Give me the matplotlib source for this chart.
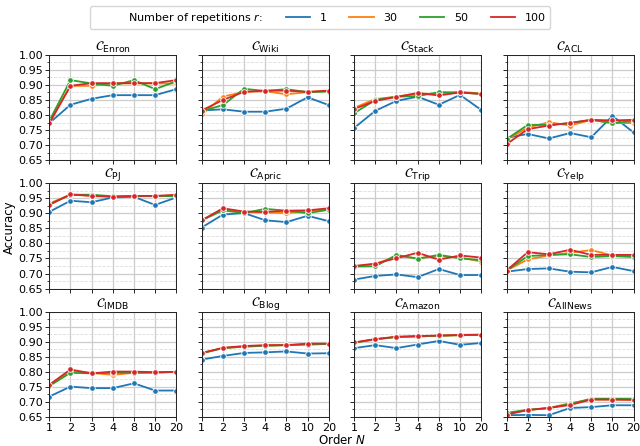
import matplotlib
matplotlib.use('Agg')
import matplotlib.pyplot as plt
from matplotlib.lines import Line2D
from matplotlib.ticker import MultipleLocator

orders = ['1', '2', '3', '4', '8', '10', '20']
reps = ['1', '30', '50', '100']
colors = ['#1f77b4', '#ff7f0e', '#2ca02c', '#d62728']

datasets = ['Enron', 'Wiki', 'Stack', 'ACL', 'PJ', 'Apric', 'Trip', 'Yelp',
            'IMDB', 'Blog', 'Amazon', 'AllNews']

# accuracy per dataset, one list per r (1, 30, 50, 100)
enron = [[0.773, 0.834, 0.854, 0.866, 0.866, 0.866, 0.886],
         [0.775, 0.897, 0.897, 0.905, 0.905, 0.905, 0.905],
         [0.780, 0.916, 0.905, 0.897, 0.916, 0.886, 0.912],
         [0.772, 0.897, 0.906, 0.906, 0.906, 0.906, 0.916]]
wiki = [[0.815, 0.819, 0.811, 0.811, 0.821, 0.859, 0.833],
        [0.802, 0.861, 0.877, 0.879, 0.869, 0.876, 0.881],
        [0.813, 0.833, 0.887, 0.880, 0.886, 0.876, 0.878],
        [0.815, 0.850, 0.877, 0.881, 0.881, 0.877, 0.881]]
stack = [[0.757, 0.814, 0.847, 0.861, 0.834, 0.867, 0.817],
         [0.824, 0.853, 0.861, 0.872, 0.869, 0.877, 0.872],
         [0.806, 0.850, 0.861, 0.863, 0.876, 0.875, 0.870],
         [0.820, 0.847, 0.860, 0.873, 0.865, 0.875, 0.870]]
acl = [[0.724, 0.737, 0.722, 0.740, 0.726, 0.797, 0.742],
       [0.718, 0.758, 0.776, 0.765, 0.784, 0.773, 0.773],
       [0.720, 0.767, 0.767, 0.773, 0.784, 0.773, 0.780],
       [0.703, 0.753, 0.765, 0.774, 0.784, 0.782, 0.784]]
pj = [[0.905, 0.942, 0.937, 0.953, 0.955, 0.928, 0.953],
      [0.933, 0.962, 0.959, 0.956, 0.957, 0.957, 0.958],
      [0.930, 0.962, 0.962, 0.957, 0.957, 0.958, 0.957],
      [0.928, 0.963, 0.958, 0.955, 0.958, 0.958, 0.962]]
apric = [[0.853, 0.896, 0.901, 0.877, 0.871, 0.892, 0.874],
         [0.877, 0.912, 0.906, 0.903, 0.901, 0.908, 0.912],
         [0.877, 0.910, 0.901, 0.915, 0.909, 0.901, 0.912],
         [0.877, 0.917, 0.906, 0.905, 0.909, 0.910, 0.917]]
trip = [[0.680, 0.692, 0.697, 0.688, 0.715, 0.695, 0.695],
        [0.724, 0.731, 0.758, 0.751, 0.758, 0.753, 0.740],
        [0.723, 0.724, 0.762, 0.749, 0.762, 0.751, 0.744],
        [0.725, 0.733, 0.751, 0.769, 0.746, 0.760, 0.753]]
yelp = [[0.706, 0.715, 0.717, 0.706, 0.704, 0.722, 0.708],
        [0.710, 0.747, 0.760, 0.769, 0.778, 0.760, 0.758],
        [0.710, 0.758, 0.762, 0.764, 0.755, 0.758, 0.755],
        [0.710, 0.771, 0.764, 0.779, 0.762, 0.762, 0.762]]
imdb = [[0.718, 0.751, 0.746, 0.746, 0.762, 0.738, 0.738],
        [0.755, 0.801, 0.797, 0.790, 0.797, 0.797, 0.800],
        [0.753, 0.797, 0.795, 0.797, 0.797, 0.798, 0.800],
        [0.757, 0.808, 0.795, 0.801, 0.801, 0.799, 0.800]]
blog = [[0.841, 0.853, 0.863, 0.865, 0.868, 0.861, 0.862],
        [0.862, 0.879, 0.884, 0.887, 0.889, 0.891, 0.893],
        [0.862, 0.879, 0.884, 0.887, 0.889, 0.891, 0.893],
        [0.863, 0.880, 0.886, 0.889, 0.889, 0.894, 0.894]]
amazon = [[0.879, 0.889, 0.879, 0.891, 0.903, 0.890, 0.896],
          [0.897, 0.909, 0.916, 0.918, 0.920, 0.922, 0.923],
          [0.897, 0.908, 0.916, 0.918, 0.920, 0.922, 0.923],
          [0.898, 0.909, 0.917, 0.919, 0.921, 0.923, 0.924]]
allnews = [[0.656, 0.657, 0.656, 0.680, 0.683, 0.689, 0.689],
           [0.661, 0.673, 0.680, 0.696, 0.708, 0.708, 0.707],
           [0.664, 0.674, 0.680, 0.693, 0.711, 0.711, 0.711],
           [0.658, 0.673, 0.680, 0.690, 0.708, 0.708, 0.707]]

all_data = [enron, wiki, stack, acl, pj, apric, trip, yelp,
            imdb, blog, amazon, allnews]

fig, axes = plt.subplots(3, 4, figsize=(6.4, 4.46), sharex=True, sharey=True)
plt.subplots_adjust(left=0.077, right=0.99, bottom=0.065, top=0.877,
                    wspace=0.2, hspace=0.22)

xs = range(len(orders))
for ax, name, data in zip(axes.flat, datasets, all_data):
    for series, c in zip(data, colors):
        ax.plot(xs, series, color=c, linewidth=1.3, marker='o', markersize=4,
                markeredgecolor='white', markeredgewidth=0.6)
    ax.set_title(r'$\mathcal{C}_{\mathrm{' + name + '}}$', fontsize=9.5, pad=2)
    ax.set_ylim(0.65, 1.0)
    ax.set_xlim(0, len(orders) - 1)
    ax.yaxis.set_major_locator(MultipleLocator(0.05))
    ax.yaxis.set_minor_locator(MultipleLocator(0.025))
    ax.grid(which='major', color='#cccccc', linewidth=0.9)
    ax.grid(which='minor', axis='y', color='#dddddd', linestyle='--', linewidth=0.6)
    ax.set_axisbelow(True)
    ax.tick_params(labelsize=8, length=3, width=0.6, pad=1.5)
    ax.tick_params(which='minor', length=1.8, width=0.5)
    for sp in ax.spines.values():
        sp.set_linewidth(0.7)
        sp.set_color('#222222')

axes[0, 0].set_xticks(list(xs))
axes[0, 0].set_xticklabels(orders)

fig.text(0.534, 0.013, 'Order $N$', ha='center', va='center', fontsize=8.5)
fig.text(0.004, 0.49, 'Accuracy', ha='left', va='center', rotation=90, fontsize=8.5)

handles = [Line2D([], [], linestyle='none')]
handles += [Line2D([], [], color=c, linewidth=1.3) for c in colors]
labels = ['Number of repetitions $r$:'] + reps
fig.legend(handles, labels, loc='upper center', bbox_to_anchor=(0.5, 0.998),
           ncol=5, fontsize=8, handlelength=2.2, handletextpad=0.9,
           columnspacing=2.0, frameon=True, edgecolor='#cccccc', fancybox=True)

plt.savefig('out.png', dpi=100)
